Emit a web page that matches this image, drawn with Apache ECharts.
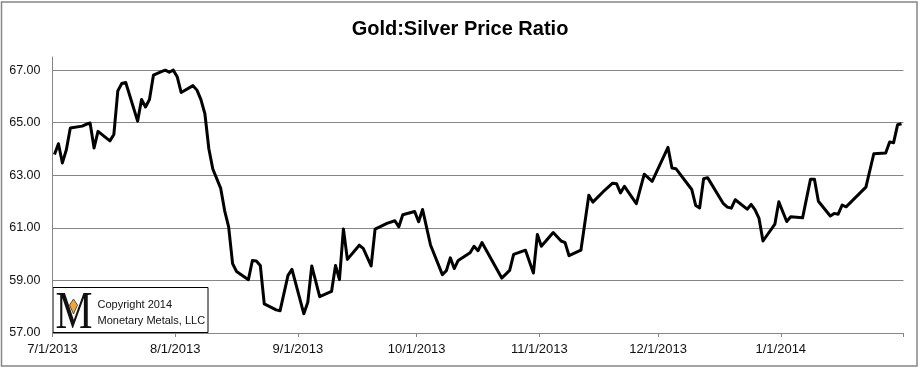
<!DOCTYPE html>
<html><head><meta charset="utf-8">
<script src="https://cdn.jsdelivr.net/npm/echarts@6/dist/echarts.min.js"></script>
<style>html,body{margin:0;padding:0;background:#fff}#c{width:920px;height:368px}</style>
</head><body><div id="c"></div>
<script>
// ---- data ----
const dates = [
'2013-07-01','2013-07-02','2013-07-03','2013-07-04','2013-07-05','2013-07-08','2013-07-09','2013-07-10','2013-07-11','2013-07-12',
'2013-07-15','2013-07-16','2013-07-17','2013-07-18','2013-07-19','2013-07-22','2013-07-23','2013-07-24','2013-07-25','2013-07-26',
'2013-07-28','2013-07-29','2013-07-30','2013-07-31','2013-08-01','2013-08-02','2013-08-05','2013-08-06','2013-08-07','2013-08-08',
'2013-08-09','2013-08-10','2013-08-12','2013-08-13','2013-08-14','2013-08-15','2013-08-16','2013-08-19','2013-08-20','2013-08-21',
'2013-08-22','2013-08-23','2013-08-26','2013-08-27','2013-08-29','2013-08-30','2013-09-02','2013-09-03','2013-09-04','2013-09-06',
'2013-09-09','2013-09-10','2013-09-11','2013-09-12','2013-09-13','2013-09-16','2013-09-17','2013-09-19','2013-09-20','2013-09-23',
'2013-09-25','2013-09-26','2013-09-27','2013-09-30','2013-10-01','2013-10-02','2013-10-04','2013-10-07','2013-10-08','2013-10-09',
'2013-10-10','2013-10-11','2013-10-14','2013-10-15','2013-10-16','2013-10-17','2013-10-22','2013-10-24','2013-10-25','2013-10-28',
'2013-10-30','2013-10-31','2013-11-01','2013-11-04','2013-11-06','2013-11-07','2013-11-08','2013-11-11','2013-11-13','2013-11-14',
'2013-11-17','2013-11-19','2013-11-20','2013-11-21','2013-11-22','2013-11-25','2013-11-27','2013-11-29','2013-12-03','2013-12-04',
'2013-12-05','2013-12-09','2013-12-10','2013-12-11','2013-12-12','2013-12-13','2013-12-17','2013-12-18','2013-12-19','2013-12-20',
'2013-12-23','2013-12-24','2013-12-25','2013-12-26','2013-12-27','2013-12-30','2013-12-31','2014-01-02','2014-01-03','2014-01-06',
'2014-01-08','2014-01-09','2014-01-10','2014-01-13','2014-01-14','2014-01-15','2014-01-16','2014-01-17','2014-01-22','2014-01-24',
'2014-01-27','2014-01-28','2014-01-29','2014-01-30','2014-01-31'
];
const ratio = [
63.79,64.20,63.47,63.97,64.80,64.87,64.94,64.99,64.04,64.67,
64.31,64.55,66.21,66.49,66.53,65.06,65.88,65.60,65.88,66.81,
66.94,67.00,66.92,67.00,66.75,66.15,66.41,66.24,65.88,65.34,
64.01,63.24,62.50,61.65,61.04,59.64,59.34,59.03,59.76,59.74,
59.57,58.11,57.88,57.85,59.19,59.42,57.73,58.17,59.55,58.38,
58.58,59.57,59.03,60.96,59.80,60.34,60.22,59.55,60.95,61.17,
61.27,61.04,61.50,61.62,61.23,61.70,60.35,59.22,59.37,59.86,
59.45,59.76,60.05,60.30,60.13,60.44,59.09,59.38,59.99,60.15,
59.28,60.75,60.30,60.82,60.50,60.44,59.94,60.15,62.24,61.98,
62.43,62.70,62.68,62.33,62.58,61.92,63.04,62.77,64.06,63.28,
63.25,62.46,61.85,61.76,62.87,62.91,61.92,61.79,61.75,62.07,
61.71,61.89,61.68,61.36,60.50,61.14,61.99,61.24,61.42,61.38,
62.85,62.85,62.01,61.45,61.55,61.52,61.87,61.80,62.55,63.82,
63.85,64.27,64.24,64.92,64.96
];
const axisStart = '2013-07-01', axisEnd = '2014-02-01';
const yMin = 57, yMax = 67.5, yStep = 2;
const titleText = 'Gold:Silver Price Ratio';
const noteLines = ['Copyright 2014', 'Monetary Metals, LLC'];

// ---- helpers ----
function ts(s, h) { const p = s.split('-').map(Number); return new Date(p[0], p[1]-1, p[2], h || 0).getTime(); }
const DAY = 86400000;
const endTs = ts(axisEnd);
// Excel date axis places each day's point in the middle of the day
const seriesData = dates.map((d, i) => [ts(d, 12), ratio[i]]);

const chart = echarts.init(document.getElementById('c'), null, {renderer: 'canvas'});
const axisGray = '#868686';
chart.setOption({
  animation: false,
  backgroundColor: '#fff',
  title: {
    text: titleText, left: 'center', top: 14,
    textStyle: {fontFamily: 'Liberation Sans', fontWeight: 'bold', fontSize: 20, color: '#000'}
  },
  grid: {left: 52.5, right: 16.5, top: 57, bottom: 35, containLabel: false, outerBoundsMode: 'none'},
  xAxis: {
    type: 'time',
    min: ts(axisStart), max: endTs,
    splitNumber: 7, minInterval: 28 * DAY, maxInterval: 31 * DAY,
    axisLine: {show: true, lineStyle: {color: axisGray, width: 1}},
    axisTick: {show: true, length: 4, inside: false, lineStyle: {color: axisGray}},
    axisLabel: {
      margin: 10, hideOverlap: false,
      fontFamily: 'Liberation Sans', fontSize: 13, color: '#111',
      formatter: function (v) {
        if (v >= endTs) return '';
        const d = new Date(v); return (d.getMonth()+1) + '/' + d.getDate() + '/' + d.getFullYear();
      }
    },
    splitLine: {show: false}
  },
  yAxis: {
    type: 'value', min: yMin, max: yMax, interval: yStep,
    axisLine: {show: true, lineStyle: {color: axisGray, width: 1}},
    axisTick: {show: false},
    axisLabel: {
      margin: 12, fontFamily: 'Liberation Sans', fontSize: 12.5, color: '#111', showMaxLabel: false,
      formatter: v => v.toFixed(2)
    },
    splitLine: {show: true, showMaxLine: false, lineStyle: {color: axisGray, width: 1}}
  },
  series: [{
    type: 'line', data: seriesData, showSymbol: false, symbol: 'none',
    lineStyle: {color: '#000', width: 3, join: 'round'},
    clip: false, z: 3
  }],
  graphic: [
    {type: 'rect', shape: {x: 1.5, y: 2, width: 915.5, height: 364}, style: {fill: 'none', stroke: axisGray, lineWidth: 1.5}, silent: true, z: 0},
    {type: 'group', left: 52.5, top: 287, z: 10, children: [
      {type: 'rect', shape: {x: 0.5, y: 0.5, width: 155, height: 45}, style: {fill: '#fff', stroke: '#000', lineWidth: 1}},
      {type: 'text', x: 3, y: 1, scaleX: 0.8, style: {text: 'M', font: '52px "Liberation Serif"', fill: '#111'}},
      {type: 'polygon', shape: {points: [[21, 12], [25, 18], [21, 27], [17, 18]]}, style: {fill: '#f4a533', stroke: '#333', lineWidth: 0.8}},
      {type: 'text', x: 45, y: 23, style: {text: noteLines[0], font: '11px "Liberation Sans"', fill: '#111', verticalAlign: 'bottom'}},
      {type: 'text', x: 45, y: 39, style: {text: noteLines[1], font: '11px "Liberation Sans"', fill: '#111', verticalAlign: 'bottom'}}
    ]}
  ]
});
</script>
</body></html>
